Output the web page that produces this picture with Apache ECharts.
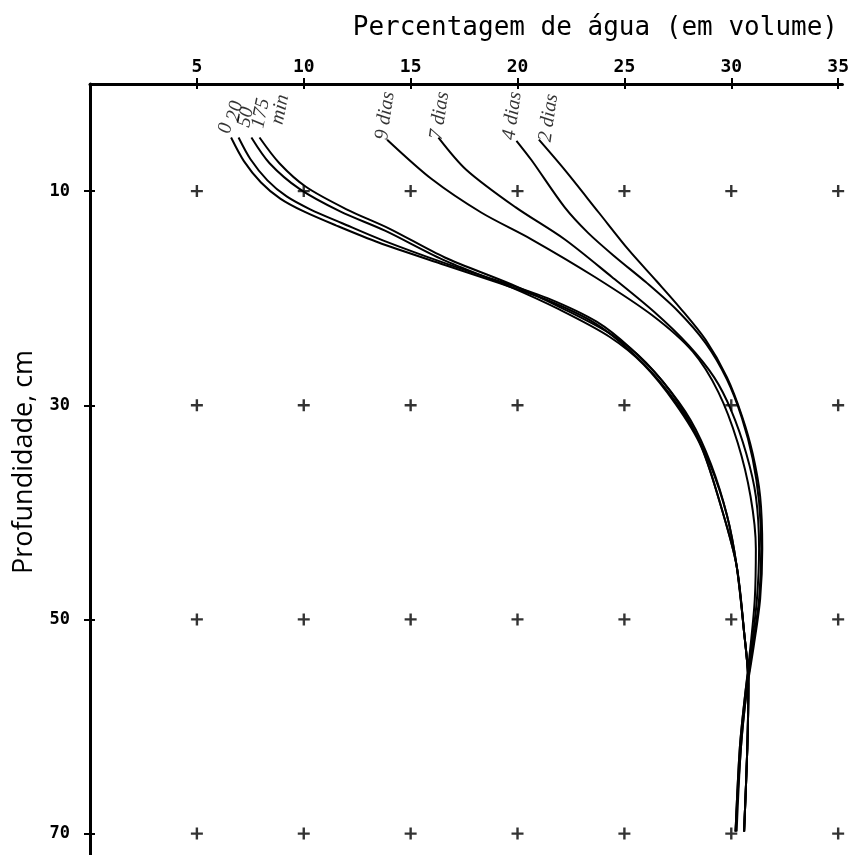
<!DOCTYPE html>
<html>
<head>
<meta charset="utf-8">
<script src="https://cdn.jsdelivr.net/npm/echarts@6/dist/echarts.min.js"></script>
<style>
html,body{margin:0;padding:0;background:#fff;}
#chart{width:852px;height:855px;}
</style>
</head>
<body>
<div id="chart"></div>
<script>
// Tick values
const xTicks = [5, 10, 15, 20, 25, 30, 35];
const yTicks = [10, 30, 50, 70];

// Curves: [percent water, depth cm]
const curva_0min = [[6.6,5.0],[7.2,7.2],[8.0,9.2],[8.9,10.7],[10.0,11.9],[11.5,13.2],[13.5,14.8],[16.6,16.9],[19.0,18.5],[21.3,20.1],[23.6,22.3],[25.2,24.8],[26.7,27.9],[28.0,31.5],[29.0,35.5],[29.8,40.3],[30.25,45],[30.6,51.2],[30.8,56],[30.75,62],[30.6,69.8]];
const curva_20min = [[6.95,5.0],[7.5,7.0],[8.3,9.0],[9.2,10.5],[10.3,11.7],[11.8,13.0],[13.7,14.6],[16.7,16.8],[19.1,18.4],[21.4,20.0],[23.7,22.2],[25.3,24.7],[26.8,27.8],[28.1,31.4],[29.05,35.5],[29.8,40.3],[30.25,45],[30.6,51.2],[30.8,56],[30.75,62],[30.6,69.8]];
const curva_50min = [[7.55,5.0],[8.4,7.4],[9.8,9.8],[11.7,11.9],[13.8,13.7],[16.5,16.4],[19.6,18.9],[22.0,21.1],[24.3,23.6],[25.9,26.2],[27.4,29.9],[28.6,33.9],[29.6,40.0],[30.25,45],[30.6,51.2],[30.8,56],[30.75,62],[30.6,69.8]];
const curva_175min = [[7.93,5.0],[8.86,7.4],[10.1,9.6],[12.0,11.7],[14.0,13.5],[16.6,16.2],[19.7,18.7],[22.05,20.9],[24.4,23.4],[26.0,26.0],[27.5,29.7],[28.6,33.8],[29.6,40.0],[30.25,45],[30.6,51.2],[30.8,56],[30.75,62],[30.6,69.8]];
const curva_9dias = [[13.9,5.2],[16.0,8.9],[18.3,12.0],[20.65,14.5],[23.6,18.0],[26.3,21.6],[28.2,25.0],[29.4,28.8],[30.3,33.5],[30.9,38.5],[31.15,43.4],[31.1,48.1],[30.9,52.5],[30.65,57],[30.4,62],[30.2,69.8]];
const curva_7dias = [[16.3,5.0],[17.6,8.0],[19.9,11.5],[22.2,14.5],[24.4,18.0],[26.4,21.3],[28.0,24.4],[29.2,27.4],[30.0,30.5],[30.7,34.5],[31.15,38.5],[31.3,43.4],[31.2,48.1],[30.95,52.5],[30.65,57],[30.4,62],[30.2,69.8]];
const curva_4dias = [[19.95,5.3],[20.65,7.1],[22.2,11.5],[23.3,13.9],[24.6,16.2],[26.0,18.5],[27.5,21.2],[28.8,24.2],[29.8,27.6],[30.5,31.2],[31.0,35.0],[31.3,39.0],[31.4,43.4],[31.3,48.1],[31.0,52.5],[30.7,57],[30.45,62],[30.2,69.8]];
const curva_2dias = [[21.0,5.2],[22.2,8.0],[23.8,12.0],[25.2,15.5],[26.5,18.4],[27.6,20.9],[28.8,23.9],[29.8,27.4],[30.5,31.0],[31.0,34.5],[31.35,38.5],[31.45,43.4],[31.35,48.1],[31.05,52.5],[30.7,57],[30.45,62],[30.25,69.8]];

// Curve labels and their anchor points [percent, depth]
const rotulosMin = ['0', '20', '50', '175', 'min'];
const ancorasMin = [[6.3,4.6],[6.7,3.45],[7.2,4.0],[7.85,4.1],[8.75,3.75]];
const rotulosDias = ['9 dias', '7 dias', '4 dias', '2 dias'];
const ancorasDias = [[13.65,5.2],[16.2,5.2],[19.6,5.2],[21.3,5.4]];

const curvas = [curva_0min, curva_20min, curva_50min, curva_175min, curva_9dias, curva_7dias, curva_4dias, curva_2dias];
const nomes = ['0 min', '20 min', '50 min', '175 min', '9 dias', '7 dias', '4 dias', '2 dias'];

const cruzes = [];
yTicks.forEach(y => xTicks.forEach(x => cruzes.push([x, y])));

const plusPath = 'path://M4,0H6V4H10V6H6V10H4V6H0V4H4Z';
const mono = 'DejaVu Sans Mono';

const labelSeries = (names, anchors, rot) => ({
  type: 'scatter',
  symbol: 'circle',
  symbolSize: 1,
  itemStyle: { color: 'rgba(0,0,0,0)' },
  silent: true,
  data: anchors.map((a, i) => ({ value: a, name: names[i] })),
  label: {
    show: true,
    formatter: '{b}',
    position: 'inside',
    align: 'left',
    verticalAlign: 'middle',
    rotate: rot,
    fontFamily: 'Liberation Serif',
    fontStyle: 'italic',
    fontSize: 20,
    color: '#000'
  },
  z: 5
});

const chart = echarts.init(document.getElementById('chart'), null, { renderer: 'canvas' });
chart.setOption({
  backgroundColor: '#fff',
  animation: false,
  grid: { left: 90, top: 84, width: 754, height: 772 },
  graphic: [{
    type: 'text',
    right: 14,
    top: 15,
    style: { text: 'Percentagem de água (em volume)', font: '26px "DejaVu Sans Mono"', fill: '#000' }
  }, {
    type: 'text',
    x: 24,
    y: 462,
    rotation: Math.PI / 2,
    style: { text: 'Profundidade, cm', font: '27px "Open Sans"', fill: '#000', align: 'center', verticalAlign: 'middle' }
  }],
  xAxis: [{
    type: 'value', position: 'top', min: 0, max: 35.2,
    axisLine: { lineStyle: { color: '#000', width: 3 } },
    axisTick: { customValues: xTicks, length: 6, lineStyle: { color: '#000', width: 2 } },
    axisLabel: { customValues: xTicks, margin: 8, color: '#000', fontFamily: mono, fontWeight: 'bold', fontSize: 18 },
    splitLine: { show: false }
  }, {
    type: 'value', position: 'top', min: 0, max: 35.2,
    axisLine: { show: false },
    axisTick: { inside: true, customValues: xTicks, length: 5, lineStyle: { color: '#000', width: 2 } },
    axisLabel: { show: false },
    splitLine: { show: false }
  }],
  yAxis: [{
    type: 'value', inverse: true, min: 0, max: 72, position: 'left',
    axisLine: { lineStyle: { color: '#000', width: 3 } },
    axisTick: { customValues: yTicks, length: 6, lineStyle: { color: '#000', width: 2 } },
    axisLabel: { customValues: yTicks, margin: 20, color: '#000', fontFamily: mono, fontWeight: 'bold', fontSize: 17 },
    splitLine: { show: false }
  }, {
    type: 'value', inverse: true, min: 0, max: 72, position: 'left',
    axisLine: { show: false },
    axisTick: { inside: true, customValues: yTicks, length: 5, lineStyle: { color: '#000', width: 2 } },
    axisLabel: { show: false },
    splitLine: { show: false }
  }],
  series: [
    ...curvas.map((c, i) => ({
      type: 'line', name: nomes[i], data: c, smooth: 0.3, symbol: 'none',
      lineStyle: { color: '#000', width: 2 }, z: 3
    })),
    {
      type: 'scatter', name: 'grade', data: cruzes, symbol: plusPath, symbolSize: 12,
      itemStyle: { color: '#000' }, silent: true, z: 2
    },
    labelSeries(rotulosMin, ancorasMin, 78),
    labelSeries(rotulosDias, ancorasDias, 82)
  ]
});
</script>
</body>
</html>
